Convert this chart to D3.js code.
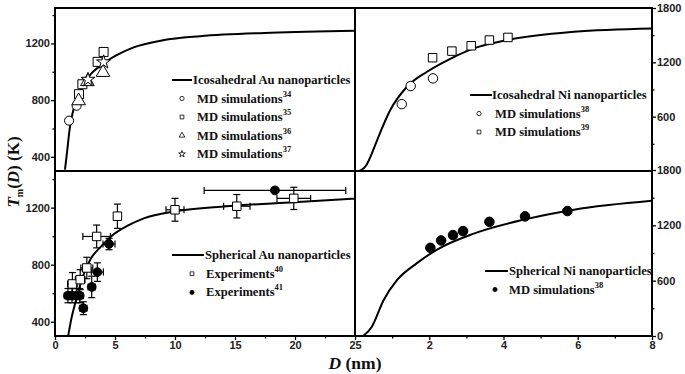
<!DOCTYPE html>
<html>
<head>
<meta charset="utf-8">
<script src="https://cdn.jsdelivr.net/npm/d3@7"></script>
<style>
    body { margin: 0; background: #fff; }
    .tick text { font-family: "Liberation Sans", Arial, sans-serif; font-weight: bold; font-size: 11px; fill: #222; }
    .tick line { stroke: #000; stroke-width: 1.3; }
    .legend text { font-family: "Liberation Serif", "Times New Roman", serif; font-weight: bold; font-size: 12.6px; fill: #111; }
    .title text { font-family: "Liberation Serif", "Times New Roman", serif; font-weight: bold; fill: #111; }
</style>
</head>
<body>
<svg id="chart" width="685" height="374"></svg>
<script>

// ---- data: [D (nm), Tm (K)] ----
// top left: icosahedral Au
let icoAuCurve = [[0.83,309],[1.0,430],[1.22,596],[1.5,720],[2.05,860],[3.0,985],[3.75,1041],[5.1,1115],[6.5,1170],[9,1222],[12.1,1251],[18,1275],[25,1290]];
let md34 = [[1.17,655],[1.8,760]];
let md35 = [[2.0,842],[2.28,912],[3.55,1070],[4.05,1140]];
let md36 = [[1.97,795],[2.7,930],[4.0,995]];
let md37 = [[2.75,945],[4.05,1068]];

// top right: icosahedral Ni
let icoNiCurve = [[0.12,0],[0.3,60],[0.45,190],[0.6,345],[0.95,673],[1.4,930],[1.94,1096],[2.5,1225],[3.2,1354],[4.1,1446],[5.9,1538],[8,1575]];
let md38ico = [[1.26,738],[1.5,938],[2.1,1023]];
let md39 = [[2.09,1251],[2.61,1324],[3.13,1383],[3.62,1446],[4.12,1475]];

// bottom left: spherical Au, [D, T, errD, errT]
let sphAuCurve = [[1.11,306],[1.36,420],[1.78,560],[2.33,720],[3.0,845],[3.75,920],[4.7,1000],[6.1,1075],[7.4,1125],[10,1175],[14.3,1210],[19.9,1238],[25,1263]];
let exp40 = [[1.45,665,0.4,80],[2.1,695,0.4,70],[2.65,777,0.5,75],[3.47,998,1.15,80],[5.2,1140,0,85],[10,1185,0.75,80],[15.15,1210,1.1,82],[19.9,1265,1.4,78]];
let exp41 = [[1.08,583,0.3,50],[1.42,583,0.3,50],[1.78,583,0.3,50],[2.06,583,0.3,50],[2.36,495,0.3,45],[3.06,644,0.3,75],[3.53,748,0.5,65],[4.5,945,0.5,40],[18.33,1321,5.9,0]];

// bottom right: spherical Ni
let sphNiCurve = [[0.22,0],[0.45,98],[0.77,388],[1.13,605],[1.67,790],[2.2,935],[3.2,1110],[4.55,1262],[5.9,1370],[8,1466]];
let md38sph = [[2.03,956],[2.32,1036],[2.64,1094],[2.91,1137],[3.62,1238],[4.58,1297],[5.72,1355]];

// ticks
let auTicks = [400, 800, 1200];
let auMinor = [600, 1000, 1400];
let niTicks = [0, 600, 1200, 1800];
let niMinor = [300, 900, 1500];
let dTicksAu = [0, 5, 10, 15, 20, 25];
let dMinorAu = [2.5, 7.5, 12.5, 17.5, 22.5];
let dTicksNi = [2, 4, 6, 8];
let dMinorNi = [1, 3, 5, 7];

// ---- layout ----
let pL = 55, pM = 355, pR = 652, pT = 8, pV = 171, pB = 336;

let svg = d3.select("#chart");

let xAu = d3.scaleLinear().domain([0, 25]).range([pL, pM]);
let xNi = d3.scaleLinear().domain([0, 8]).range([pM, pR]);
let yAuTop = d3.scaleLinear().domain([300, 1450]).range([pV, pT]);
let yAuBot = d3.scaleLinear().domain([300, 1450]).range([pB, pV + 1]);
let yNiTop = d3.scaleLinear().domain([0, 1800]).range([pV, pT]);
let yNiBot = d3.scaleLinear().domain([0, 1800]).range([pB, pV - 1]);

// clip paths per panel
let defs = svg.append("defs");
function clip(id, x0, y0, x1, y1) {
    defs.append("clipPath").attr("id", id).append("rect")
        .attr("x", x0).attr("y", y0).attr("width", x1 - x0).attr("height", y1 - y0);
    return svg.append("g").attr("clip-path", "url(#" + id + ")");
}
let gTL = clip("cTL", pL, pT, pM, pV);
let gTR = clip("cTR", pM, pT, pR, pV);
let gBL = clip("cBL", pL, pV, pM, pB);
let gBR = clip("cBR", pM, pV, pR, pB);

// axes
function axis(gen, tr, major, minor) {
    let g = svg.append("g").attr("transform", tr);
    g.call(gen.tickValues(major).tickSize(4).tickPadding(1).tickFormat(d3.format("d")));
    g.select(".domain").remove();
    let m = svg.append("g").attr("transform", tr);
    m.call(gen.tickValues(minor).tickSize(2.5).tickFormat(""));
    m.select(".domain").remove();
    return g;
}
axis(d3.axisLeft(yAuTop), "translate(" + pL + ",0)", auTicks, auMinor);
axis(d3.axisLeft(yAuBot), "translate(" + pL + ",0)", auTicks, auMinor);
axis(d3.axisRight(yNiTop), "translate(" + pR + ",0)", niTicks.slice(1), niMinor);
axis(d3.axisRight(yNiBot), "translate(" + pR + ",0)", niTicks, niMinor);
axis(d3.axisBottom(xAu), "translate(0," + pB + ")", dTicksAu, dMinorAu);
axis(d3.axisBottom(xNi), "translate(0," + pB + ")", dTicksNi, dMinorNi);

// frame
svg.append("rect").attr("x", pL).attr("y", pT).attr("width", pR - pL).attr("height", pB - pT)
    .attr("fill", "none").attr("stroke", "#000").attr("stroke-width", 2);
svg.append("line").attr("x1", pM).attr("x2", pM).attr("y1", pT).attr("y2", pB)
    .attr("stroke", "#000").attr("stroke-width", 2);
svg.append("line").attr("x1", pL).attr("x2", pR).attr("y1", pV).attr("y2", pV)
    .attr("stroke", "#000").attr("stroke-width", 2);

// curves
function curve(g, pts, x, y) {
    g.append("path").datum(pts)
        .attr("fill", "none").attr("stroke", "#000").attr("stroke-width", 2)
        .attr("d", d3.line().x(d => x(d[0])).y(d => y(d[1])).curve(d3.curveMonotoneX));
}
curve(gTL, icoAuCurve, xAu, yAuTop);
curve(gTR, icoNiCurve, xNi, yNiTop);
curve(gBL, sphAuCurve, xAu, yAuBot);
curve(gBR, sphNiCurve, xNi, yNiBot);

// error bars (drawn under the markers)
function errors(g, pts, x, y) {
    pts.forEach(d => {
        let cx = x(d[0]), cy = y(d[1]);
        if (d[3] > 0) {
            let y0 = y(d[1] - d[3]), y1 = y(d[1] + d[3]);
            g.append("line").attr("x1", cx).attr("x2", cx).attr("y1", y0).attr("y2", y1);
            g.append("line").attr("x1", cx - 3.5).attr("x2", cx + 3.5).attr("y1", y0).attr("y2", y0);
            g.append("line").attr("x1", cx - 3.5).attr("x2", cx + 3.5).attr("y1", y1).attr("y2", y1);
        }
        if (d[2] > 0) {
            let x0 = x(d[0] - d[2]), x1 = x(d[0] + d[2]);
            g.append("line").attr("x1", x0).attr("x2", x1).attr("y1", cy).attr("y2", cy);
            g.append("line").attr("x1", x0).attr("x2", x0).attr("y1", cy - 3.5).attr("y2", cy + 3.5);
            g.append("line").attr("x1", x1).attr("x2", x1).attr("y1", cy - 3.5).attr("y2", cy + 3.5);
        }
    });
    g.selectAll("line").attr("stroke", "#000").attr("stroke-width", 1.2);
}
let eBL = gBL.append("g");
errors(eBL, exp40, xAu, yAuBot);
errors(eBL, exp41, xAu, yAuBot);

// markers
function markers(g, pts, x, y, type, size, filled) {
    g.append("g").selectAll("path").data(pts).enter().append("path")
        .attr("transform", d => "translate(" + x(d[0]) + "," + y(d[1]) + ")")
        .attr("d", d3.symbol().type(type).size(size))
        .attr("fill", filled ? "#000" : "#fff")
        .attr("stroke", "#000").attr("stroke-width", 1);
}
markers(gTL, md34, xAu, yAuTop, d3.symbolCircle, 64, false);
markers(gTL, md35, xAu, yAuTop, d3.symbolSquare, 81, false);
markers(gTL, md36, xAu, yAuTop, d3.symbolTriangle, 80, false);
markers(gTL, md37, xAu, yAuTop, d3.symbolStar, 60, false);
markers(gTR, md38ico, xNi, yNiTop, d3.symbolCircle, 70, false);
markers(gTR, md39, xNi, yNiTop, d3.symbolSquare, 72, false);
markers(gBL, exp40, xAu, yAuBot, d3.symbolSquare, 72, false);
markers(gBL, exp41, xAu, yAuBot, d3.symbolCircle, 60, true);
markers(gBR, md38sph, xNi, yNiBot, d3.symbolCircle, 72, true);

// legends
function legend(x, y, rows) {
    let g = svg.append("g").attr("class", "legend");
    rows.forEach((r, i) => {
        let ry = y + i * r.step;
        if (r.line) {
            g.append("line").attr("x1", x + r.line[0]).attr("x2", x + r.line[1]).attr("y1", ry).attr("y2", ry)
                .attr("stroke", "#000").attr("stroke-width", 2);
        } else {
            g.append("path").attr("transform", "translate(" + (x + r.sx) + "," + ry + ")")
                .attr("d", d3.symbol().type(r.type).size(r.size || 14))
                .attr("fill", r.filled ? "#000" : "#fff").attr("stroke", "#000").attr("stroke-width", 0.8);
        }
        let t = g.append("text").attr("x", x + r.tx).attr("y", ry + 4);
        t.append("tspan").text(r.label);
        if (r.sup) t.append("tspan").attr("dy", -6).attr("font-size", 8.5).text(r.sup);
    });
}
legend(172, 80, [
    {line: [0, 20], tx: 21, label: "Icosahedral Au nanoparticles", step: 18.5},
    {sx: 10, type: d3.symbolCircle, tx: 25, label: "MD simulations", sup: "34", step: 18.5},
    {sx: 10, type: d3.symbolSquare, tx: 25, label: "MD simulations", sup: "35", step: 18.5},
    {sx: 10, type: d3.symbolTriangle, tx: 25, label: "MD simulations", sup: "36", step: 18.5},
    {sx: 10, type: d3.symbolStar, tx: 25, label: "MD simulations", sup: "37", step: 18.5}
]);
legend(470, 95, [
    {line: [0, 22], tx: 22, label: "Icosahedral Ni nanoparticles", step: 18.5},
    {sx: 9, type: d3.symbolCircle, tx: 25, label: "MD simulations", sup: "38", step: 18.5},
    {sx: 9, type: d3.symbolSquare, tx: 25, label: "MD simulations", sup: "39", step: 18.5}
]);
legend(172, 255, [
    {line: [0, 32], tx: 33, label: "Spherical Au nanoparticles", step: 18.7},
    {sx: 20, type: d3.symbolSquare, tx: 34, label: "Experiments", sup: "40", step: 18.7},
    {sx: 20, type: d3.symbolCircle, filled: true, tx: 34, label: "Experiments", sup: "41", step: 18.7}
]);
legend(485, 271, [
    {line: [0, 23], tx: 24, label: "Spherical Ni nanoparticles", step: 18.5},
    {sx: 10, type: d3.symbolCircle, filled: true, tx: 24, label: "MD simulations", sup: "38", step: 18.5}
]);

// axis titles
let titles = svg.append("g").attr("class", "title");
let yt = titles.append("text").attr("transform", "translate(19,172) rotate(-90)")
    .attr("text-anchor", "middle").attr("font-size", 17);
yt.append("tspan").attr("font-style", "italic").text("T");
yt.append("tspan").attr("font-size", 10).attr("dy", 4).text("m");
yt.append("tspan").attr("dy", -4).text("(");
yt.append("tspan").attr("font-style", "italic").text("D");
yt.append("tspan").text(") (K)");

let xt = titles.append("text").attr("x", 355).attr("y", 369)
    .attr("text-anchor", "middle").attr("font-size", 17.5);
xt.append("tspan").attr("font-style", "italic").text("D");
xt.append("tspan").text(" (nm)");

</script>
</body>
</html>
